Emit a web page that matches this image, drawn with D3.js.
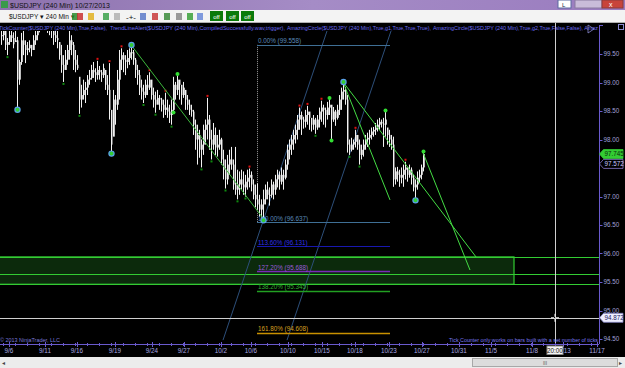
<!DOCTYPE html>
<html><head><meta charset="utf-8">
<script src="https://cdn.jsdelivr.net/npm/d3@7"></script>
<style>body{margin:0;background:#000;overflow:hidden}svg{display:block;font-family:Arial,"Liberation Sans",sans-serif}</style>
</head><body><svg id="c" width="625" height="368"></svg>
<script>
// ---------- DATA ----------
const barHigh=[99.95,100.01,99.92,99.78,99.92,99.95,99.88,99.92,99.80,99.40,
99.87,99.92,99.74,99.71,99.74,99.66,99.83,99.92,100.01,100.18,
100.27,100.30,100.23,100.18,100.13,100.09,100.01,99.95,99.92,99.71,
99.66,99.48,99.57,99.66,99.92,99.83,99.71,99.57,99.48,99.10,
98.96,99.05,99.01,99.13,99.22,99.31,99.36,99.25,99.38,99.29,
99.22,99.33,99.22,99.13,99.34,98.52,98.87,98.78,99.22,99.57,
99.60,99.53,99.48,99.57,99.60,99.66,99.57,99.43,99.31,99.22,
99.05,98.96,99.05,99.13,99.18,99.05,98.91,98.84,98.87,98.78,
98.73,98.70,98.82,98.70,98.61,98.70,99.10,99.01,99.13,99.05,
98.96,99.01,98.87,98.78,98.70,98.61,98.52,98.35,98.26,98.17,
98.00,98.26,98.35,98.73,98.43,98.17,98.29,98.21,98.08,98.17,
98.03,97.82,97.65,97.73,97.82,97.87,97.65,97.87,97.47,97.44,
97.47,97.44,97.38,97.47,97.49,97.44,97.30,97.21,97.23,97.03,
96.95,97.12,97.21,97.26,97.16,97.30,97.26,97.38,97.47,97.44,
97.51,97.47,97.65,97.91,98.00,98.08,98.17,98.26,98.43,98.56,
98.49,98.40,98.52,98.59,98.49,98.38,98.43,98.38,98.43,98.56,
98.68,98.61,98.56,98.66,98.71,98.61,98.57,98.52,98.61,98.78,
98.91,99.01,98.92,98.78,98.00,98.03,98.00,98.17,98.08,98.00,
97.91,98.00,98.08,98.12,98.17,98.21,98.22,98.29,98.35,98.38,
98.35,98.38,98.49,98.21,98.17,98.08,98.05,97.51,97.52,97.47,
97.51,97.56,97.61,97.51,97.56,97.51,97.38,97.30,97.44,97.47,
97.56,97.77];
const barLow=[99.66,99.74,99.57,99.48,99.66,99.71,99.60,99.71,98.54,98.96,
99.31,99.48,99.34,99.48,99.53,99.46,99.57,99.66,99.74,99.88,
99.95,100.01,99.92,99.87,99.83,99.78,99.66,99.71,99.60,99.40,
99.17,99.01,99.22,99.31,99.40,99.48,99.22,99.18,99.22,98.45,
98.56,98.70,98.64,98.78,98.96,99.05,99.08,99.01,99.05,99.05,
99.01,99.08,98.87,98.78,98.35,97.77,98.05,98.26,98.52,98.70,
99.22,99.18,99.13,99.25,99.31,99.40,99.31,99.08,98.96,98.78,
98.70,98.64,98.73,98.78,98.87,98.70,98.56,98.47,98.61,98.52,
98.49,98.38,98.43,98.38,98.29,98.26,98.49,98.70,98.78,98.70,
98.61,98.73,98.52,98.52,98.43,98.40,98.08,97.82,97.56,97.68,
97.51,97.73,97.91,98.00,97.82,97.65,97.82,97.73,97.70,97.82,
97.56,97.30,97.14,97.21,97.38,97.47,97.12,97.03,96.95,97.03,
97.12,97.03,97.00,97.12,97.16,97.09,96.95,96.81,96.77,96.65,
96.63,96.60,96.86,96.95,96.84,96.98,96.95,97.03,97.16,97.12,
97.21,97.12,97.30,97.47,97.65,97.73,97.82,97.93,98.00,98.17,
98.08,98.19,98.21,98.26,98.17,98.14,98.17,98.10,98.17,98.21,
98.31,98.26,98.21,98.35,98.43,98.00,98.31,98.24,98.35,98.43,
98.52,98.70,98.61,97.77,97.73,97.79,97.82,97.86,97.82,97.56,
97.65,97.70,97.82,97.87,97.91,98.00,98.05,98.08,98.14,98.17,
98.21,97.87,98.05,97.91,97.87,97.82,97.17,97.21,97.26,97.17,
97.23,97.17,97.30,97.26,97.33,97.21,97.09,96.95,97.12,97.24,
97.30,97.44];
const barClose=[99.83,99.92,99.66,99.71,99.83,99.78,99.67,99.74,99.05,99.36,
99.74,99.66,99.57,99.60,99.66,99.57,99.74,99.83,99.95,100.09,
100.13,100.23,100.09,100.01,99.95,99.92,99.83,99.78,99.74,99.48,
99.31,99.22,99.40,99.57,99.74,99.66,99.40,99.31,99.25,98.70,
98.78,98.87,98.91,99.05,99.08,99.22,99.18,99.13,99.22,99.18,
99.13,99.25,98.96,98.87,98.52,97.91,98.70,98.61,99.05,99.40,
99.48,99.40,99.36,99.43,99.53,99.53,99.40,99.22,99.13,98.91,
98.84,98.78,98.96,98.91,99.05,98.78,98.70,98.61,98.73,98.70,
98.61,98.52,98.56,98.49,98.43,98.52,98.96,98.87,99.05,98.96,
98.78,98.91,98.70,98.61,98.52,98.49,98.26,98.00,98.08,97.82,
97.91,98.17,98.26,98.35,98.00,97.91,98.08,97.86,97.91,98.00,
97.65,97.47,97.30,97.56,97.65,97.56,97.21,97.12,97.21,97.30,
97.21,97.16,97.26,97.33,97.38,97.21,97.03,96.95,96.86,96.77,
96.86,96.95,97.12,97.03,97.03,97.21,97.12,97.30,97.38,97.26,
97.38,97.33,97.56,97.82,97.91,98.00,98.08,98.17,98.35,98.43,
98.35,98.31,98.43,98.49,98.38,98.26,98.35,98.21,98.35,98.49,
98.56,98.52,98.43,98.56,98.61,98.35,98.49,98.38,98.52,98.70,
98.84,98.87,98.70,97.91,97.82,97.91,97.96,98.08,97.91,97.73,
97.82,97.91,98.00,98.03,98.08,98.14,98.17,98.21,98.26,98.31,
98.28,98.26,98.35,98.08,98.00,97.91,97.30,97.44,97.38,97.33,
97.38,97.47,97.51,97.38,97.47,97.33,97.16,97.21,97.33,97.38,
97.51,97.745];

const dayLabels=['9/6','9/11','9/16','9/19','9/24','9/27','10/2','10/6','10/10','10/15','10/18','10/23','10/27','10/31','11/5','11/8','11/13','11/17'];
const dayLabelBars=[4,22,38,57,75.5,91.5,110,125,143.5,160.5,177,194,210.5,229,245,265.5,281,298];
const priceTicks=[94.5,95,95.5,96,96.5,97,98,98.5,99,99.5];

const circleBars=[8,55,65,131,171,207];
const circleSide=['low','low','high','low','high','low'];
const greenDotBars=[88,164,192,211,86,165];
const greenDotSide=['high','high','high','high','low','low'];

const fibLabels=['0.00% (99.558)','100.00% (96.637)','113.60% (96.131)','127.20% (95.688)','138.20% (95.345)','161.80% (94.608)'];
const fibLinePrices=[99.66,96.55,96.131,95.688,95.345,94.608];
const fibLineColors=['#3f6f95','#3f6f95','#1818b0','#7a2ab8','#22a022','#c89000'];
const fibTextColors=['#5a8ab8','#5a8ab8','#3030e8','#9a5ad8','#30b030','#d8a020'];
const fibStartBar=128, fibEndBar=194.5;

const zonePrices=[95.94,95.64,95.46];
const zoneEndBar=256.5;

const trendFromBar=[65,171,171,211];
const trendFromPrice=[99.66,99.01,99.01,97.77];
const trendToBar=[131,237.5,194.5,234.5];
const trendToPrice=[96.62,95.94,96.94,95.71];

const channelFromBar=[111,143], channelFromPrice=[94.48,94.48];
const channelToBar=[164.5,196.5], channelToPrice=[100.06,100.06];

const markerPrice=97.572;
const crossPrice=94.872, crossBar=277, crossTime='20:00';

const indicatorText=['TickCounter($USDJPY (240 Min),True,False), ','TrendLineAlert($USDJPY (240 Min),CompiledSuccessfully.wav,trigger), ','AmazingCircle($USDJPY (240 Min),True,g1,True,True,True), ','AmazingCircle($USDJPY (240 Min),True,g2,True,False,False), Amaz'];

// ---------- DRAW ----------
const svg=d3.select('#c');
const x=d3.scaleLinear().domain([0,299]).range([1,599]);
const y=d3.scaleLinear().domain([94.5,99.5]).range([339,54]);
const px=v=>Math.round(x(v))+0.5;

svg.append('rect').attr('width',625).attr('height',368).attr('fill','#000');

// title bar
const defs=svg.append('defs');
const g1=defs.append('linearGradient').attr('id','tb').attr('x1',0).attr('x2',1);
g1.append('stop').attr('offset',0).attr('stop-color','#8d72ad');
g1.append('stop').attr('offset',0.5).attr('stop-color','#a58cc6');
g1.append('stop').attr('offset',1).attr('stop-color','#9a7cbf');
svg.append('rect').attr('width',625).attr('height',10).attr('fill','url(#tb)');
svg.append('rect').attr('x',1).attr('y',1).attr('width',7).attr('height',7).attr('fill','#3a9a4a');
svg.append('text').attr('x',10).attr('y',7.5).attr('font-size',7).attr('fill','#111').text('$USDJPY (240 Min)  10/27/2013');
svg.append('rect').attr('x',558).attr('y',0).attr('width',13).attr('height',8).attr('fill','#fff').attr('stroke','#5a6aa0');
svg.append('text').attr('x',562).attr('y',6.5).attr('font-size',6).attr('fill','#224').text('L');
svg.append('rect').attr('x',575).attr('y',0).attr('width',27).attr('height',8).attr('fill','#c9bcd9').attr('stroke','#8a7aa0');
svg.append('rect').attr('x',602).attr('y',0).attr('width',21).attr('height',8).attr('fill','#c8443a').attr('stroke','#8a3a3a');
svg.append('text').attr('x',609).attr('y',7).attr('font-size',7).attr('fill','#fff').text('x');

// toolbar
svg.append('rect').attr('y',10).attr('width',625).attr('height',13).attr('fill','#f3f3f3');
svg.append('line').attr('x1',0).attr('x2',625).attr('y1',22.5).attr('y2',22.5).attr('stroke','#b0b0b0');
svg.append('text').attr('x',9).attr('y',19).attr('font-size',6.5).attr('fill','#111').text('$USDJPY ▾   240 Min ▾');
const icons=[[72,'#2a8a2a'],[77,'#c83030'],[88,'#e0b020'],[103,'#3aa04a'],[114,'#b0b0b0'],[140,'#5a7ac8'],[152,'#c83a3a'],[164,'#3a8a3a'],[176,'#888'],[187,'#3aa03a'],[197,'#6a8ad8']];
icons.forEach(d=>svg.append('rect').attr('x',d[0]).attr('y',13).attr('width',6).attr('height',7).attr('fill',d[1]).attr('opacity',0.85));
svg.append('text').attr('x',126).attr('y',19.5).attr('font-size',8).attr('fill','#111').text('-+-');
[210,226,241].forEach(bx=>{
  svg.append('rect').attr('x',bx).attr('y',11).attr('width',13).attr('height',10).attr('fill','#0a7a0a');
  svg.append('text').attr('x',bx+6.5).attr('y',18.5).attr('text-anchor','middle').attr('font-size',6).attr('fill','#fff').text('off');
});

// plot clip
defs.append('clipPath').attr('id','pc').append('rect').attr('x',0).attr('y',31).attr('width',599).attr('height',313);
const plot=svg.append('g').attr('clip-path','url(#pc)');

// zone
plot.append('rect').attr('x',-2).attr('y',y(zonePrices[0])).attr('width',x(zoneEndBar)+2).attr('height',y(zonePrices[2])-y(zonePrices[0]))
  .attr('fill','#0c2a0c').attr('stroke','#33cc33').attr('stroke-width',1.2);
plot.selectAll('line.zl').data(zonePrices).join('line').attr('x1',0).attr('x2',599)
  .attr('y1',d=>Math.round(y(d))+0.5).attr('y2',d=>Math.round(y(d))+0.5).attr('stroke','#33cc33').attr('stroke-width',1.2);

// channel lines
plot.selectAll('line.ch').data(channelFromBar).join('line')
  .attr('x1',(d,i)=>x(d)).attr('y1',(d,i)=>y(channelFromPrice[i])).attr('x2',(d,i)=>x(channelToBar[i])).attr('y2',(d,i)=>y(channelToPrice[i]))
  .attr('stroke','#2d4f7a').attr('stroke-width',1);

// fib
plot.append('line').attr('x1',px(fibStartBar)).attr('x2',px(fibStartBar)).attr('y1',y(fibLinePrices[0])).attr('y2',y(fibLinePrices[1]))
  .attr('stroke','#9a9a9a').attr('stroke-dasharray','1,1');
plot.selectAll('line.fib').data(fibLinePrices).join('line')
  .attr('x1',x(fibStartBar)).attr('x2',x(fibEndBar)).attr('y1',d=>Math.round(y(d))+0.5).attr('y2',d=>Math.round(y(d))+0.5)
  .attr('stroke',(d,i)=>fibLineColors[i]).attr('stroke-width',(d,i)=>i>=3?1.3:1);
plot.selectAll('text.fib').data(fibLabels).join('text')
  .attr('x',x(fibStartBar)+1).attr('y',(d,i)=>y(fibLinePrices[i])-1.5).attr('font-size',6.3).attr('fill',(d,i)=>fibTextColors[i]).text(d=>d);

// crosshair
svg.append('line').attr('x1',px(crossBar)).attr('x2',px(crossBar)).attr('y1',23).attr('y2',344).attr('stroke','#cfcfcf');
svg.append('line').attr('x1',0).attr('x2',599).attr('y1',Math.round(y(crossPrice))+0.5).attr('y2',Math.round(y(crossPrice))+0.5).attr('stroke','#cfcfcf');

// bars
const bars=barHigh.map((h,i)=>({i,h,l:barLow[i],c:barClose[i],o:i?barClose[i-1]:barClose[0]}));
plot.selectAll('rect.body').data(bars).join('rect')
  .attr('x',d=>Math.round(x(d.i))+1).attr('width',1)
  .attr('y',d=>y(Math.min(d.h,Math.max(d.o,d.c)))).attr('height',d=>Math.max(1,Math.abs(y(Math.max(d.l,Math.min(d.o,d.c)))-y(Math.min(d.h,Math.max(d.o,d.c))))))
  .attr('fill',d=>d.c>=d.o?'#bdbdbd':'#6e6e6e');
plot.selectAll('line.wick').data(bars).join('line')
  .attr('x1',d=>px(d.i)).attr('x2',d=>px(d.i)).attr('y1',d=>y(d.h)).attr('y2',d=>y(d.l)).attr('stroke','#f2f2f2');

// pivot dots
const n=barHigh.length;
const special=new Set([...circleBars,...greenDotBars]);
const hiP=[],loP=[];
for(let i=0;i<n;i++){
  if(special.has(i)) continue;
  let hi=true,lo=true;
  for(let k=i-3;k<=i+3;k++){ if(k<0||k>=n||k===i) continue; if(barHigh[k]>=barHigh[i]) hi=false; if(barLow[k]<=barLow[i]) lo=false; }
  if(hi) hiP.push(i); if(lo) loP.push(i);
}
plot.selectAll('rect.hp').data(hiP).join('rect').attr('x',d=>Math.round(x(d))-0.5).attr('y',d=>y(barHigh[d])-3).attr('width',2).attr('height',2).attr('fill','#e01010');
plot.selectAll('rect.lp').data(loP).join('rect').attr('x',d=>Math.round(x(d))-0.5).attr('y',d=>y(barLow[d])+1).attr('width',2).attr('height',2).attr('fill','#0e8a0e');

// trend lines
plot.selectAll('line.tr').data(trendFromBar).join('line')
  .attr('x1',d=>x(d)).attr('y1',(d,i)=>y(trendFromPrice[i])).attr('x2',(d,i)=>x(trendToBar[i])).attr('y2',(d,i)=>y(trendToPrice[i]))
  .attr('stroke',(d,i)=>i===0?'#3cb83c':'#44dd44').attr('stroke-width',1);

// green dots
plot.selectAll('circle.gd').data(greenDotBars).join('circle')
  .attr('cx',d=>px(d)).attr('cy',(d,i)=>greenDotSide[i]==='high'?y(barHigh[d])-1:y(barLow[d])+1).attr('r',2)
  .attr('fill','#33dd33');
// circles
plot.selectAll('circle.sc').data(circleBars).join('circle')
  .attr('cx',d=>px(d)).attr('cy',(d,i)=>circleSide[i]==='high'?y(barHigh[d]):y(barLow[d])+1).attr('r',2.6)
  .attr('fill','#33cc33').attr('stroke','#5aa0e8').attr('stroke-width',1.2);

// indicator text row
const segX=[-1,110,287,433], segW=[108,175,144,165];
indicatorText.forEach((t,i)=>svg.append('text').attr('x',segX[i]).attr('y',29.5).attr('font-size',6).attr('fill','#6a6af0')
  .attr('textLength',segW[i]).attr('lengthAdjust','spacingAndGlyphs').text(t));
svg.append('path').attr('d','M588,25 L594,29 L588,33 Z').attr('fill','none').attr('stroke','#8a8ad0').attr('stroke-width',0.8);
svg.append('rect').attr('x',618.5).attr('y',24.5).attr('width',5).attr('height',5).attr('fill','none').attr('stroke','#8a8ad0');

// right axis
svg.append('line').attr('x1',599.5).attr('x2',599.5).attr('y1',25).attr('y2',344).attr('stroke','#6a5acd');
svg.append('line').attr('x1',599.5).attr('x2',603).attr('y1',25.5).attr('y2',25.5).attr('stroke','#6a5acd');
svg.selectAll('line.pt').data(priceTicks).join('line').attr('x1',599.5).attr('x2',602.5)
  .attr('y1',d=>Math.round(y(d))+0.5).attr('y2',d=>Math.round(y(d))+0.5).attr('stroke','#6a5acd');
svg.selectAll('text.pt').data(priceTicks).join('text').attr('x',603.5).attr('y',d=>y(d)+2.2).attr('font-size',6.3)
  .attr('fill','#a0a0d8').text(d=>d.toFixed(2));

function tag(price,fill,stroke,tcol,label){
  const yy=y(price);
  svg.append('path').attr('d',`M599.5,${yy} L603.5,${yy-4.5} L623,${yy-4.5} L623,${yy+4.5} L603.5,${yy+4.5} Z`)
    .attr('fill',fill).attr('stroke',stroke).attr('stroke-width',0.8);
  svg.append('text').attr('x',604.5).attr('y',yy+2.2).attr('font-size',6.3).attr('fill',tcol).text(label);
}
tag(barClose[n-1],'#33cc33','#33cc33','#0a2a0a',barClose[n-1].toFixed(3));
tag(markerPrice,'#000','#8a7acd','#c8c8ff',markerPrice.toFixed(3));
tag(crossPrice,'#eef','#8080c0','#202060',crossPrice.toFixed(3));

// bottom texts
svg.append('text').attr('x',0).attr('y',342).attr('font-size',5.8).attr('fill','#7a7ad8').attr('textLength',60).attr('lengthAdjust','spacingAndGlyphs').text('© 2013 NinjaTrader, LLC');
svg.append('text').attr('x',449).attr('y',342).attr('font-size',5.8).attr('fill','#7a7af0').attr('textLength',149).attr('lengthAdjust','spacingAndGlyphs').text('Tick Counter only works on bars built with a set number of ticks');

// bottom axis
svg.append('line').attr('x1',0).attr('x2',599).attr('y1',344.5).attr('y2',344.5).attr('stroke','#6a5acd');
const minorTicks=d3.range(1,299,6);
svg.selectAll('line.mt').data(minorTicks).join('line').attr('x1',d=>px(d)).attr('x2',d=>px(d)).attr('y1',343).attr('y2',346).attr('stroke','#6a5acd');
svg.selectAll('line.dt').data(dayLabelBars).join('line').attr('x1',d=>px(d)).attr('x2',d=>px(d)).attr('y1',342).attr('y2',347).attr('stroke','#6a5acd');
svg.selectAll('text.dl').data(dayLabels).join('text').attr('x',(d,i)=>x(dayLabelBars[i])).attr('y',352.5).attr('text-anchor','middle')
  .attr('font-size',6.3).attr('fill','#a8a8e0').text(d=>d);
svg.append('rect').attr('x',x(crossBar)-8).attr('y',346).attr('width',16).attr('height',8.5).attr('fill','#f4f4f4').attr('stroke','#888');
svg.append('text').attr('x',x(crossBar)).attr('y',352.5).attr('text-anchor','middle').attr('font-size',6.3).attr('fill','#111').text(crossTime);
// cursor glyph
[[-4,-1],[1,4]].forEach(s=>{
  svg.append('line').attr('x1',x(crossBar)+s[0]).attr('x2',x(crossBar)+s[1]).attr('y1',y(crossPrice)).attr('y2',y(crossPrice)).attr('stroke','#fff');
  svg.append('line').attr('x1',x(crossBar)).attr('x2',x(crossBar)).attr('y1',y(crossPrice)+s[0]).attr('y2',y(crossPrice)+s[1]).attr('stroke','#fff');
});

// scrollbar
svg.append('rect').attr('y',357).attr('width',625).attr('height',11).attr('fill','#ececec');
svg.append('text').attr('x',2).attr('y',365).attr('font-size',6).attr('fill','#444').text('◂');
svg.append('rect').attr('x',472.5).attr('y',358.5).attr('width',145).attr('height',8).attr('fill','#dcdcdc').attr('stroke','#a8a8a8');
svg.append('text').attr('x',545).attr('y',365).attr('text-anchor','middle').attr('font-size',5).attr('fill','#555').text('III');
svg.append('text').attr('x',619).attr('y',365).attr('font-size',6).attr('fill','#444').text('▸');
</script></body></html>
